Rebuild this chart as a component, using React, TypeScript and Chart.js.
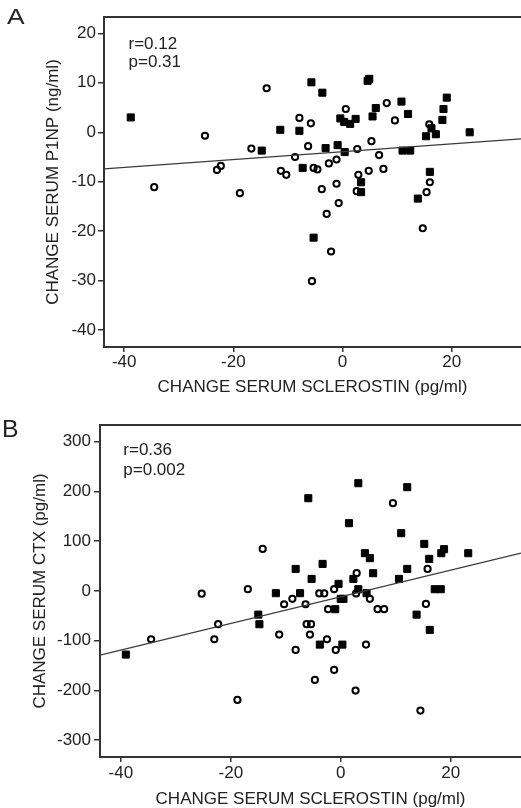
import React, { useEffect, useRef } from "react";
import { Chart, registerables } from "chart.js";

Chart.register(...registerables);

const FONT = "'Liberation Sans', Arial, sans-serif";
const INK = "#222";

// ---------- Panel A : P1NP ----------
const A_SQ_X = [-38.8, -5.7, -3.7, -11.4, -7.9, -14.8, -3.1, -0.9, 0.4, -7.3, 4.6, 4.9, -0.4, 0.3, 1.4, 2.4, 5.5, 6.1, 10.8, 12.0, 11.0, 12.4, 15.3, 16.3, 17.1, 18.3, 18.5, 19.1, 23.3, 16.0, 3.4, 3.4, 13.8, -5.3];
const A_SQ_Y = [3.0, 10.1, 8.0, 0.5, 0.3, -3.7, -3.2, -2.6, -4.0, -7.2, 10.4, 10.8, 2.8, 2.1, 1.7, 2.7, 3.2, 4.9, 6.2, 3.7, -3.7, -3.7, -0.8, 0.8, -0.4, 2.5, 4.7, 7.0, 0.0, -8.0, -10.1, -12.1, -13.4, -21.3];
const A_CI_X = [-13.9, -25.2, -16.7, -23.0, -22.3, -34.5, -18.8, -7.9, -5.8, -6.3, -8.7, -11.3, -10.3, -5.3, -4.6, -2.5, -1.1, 0.6, 2.7, 5.3, 6.7, 8.1, 9.6, 7.5, 4.8, 2.9, 15.9, 16.0, -1.1, -3.8, 2.6, 15.4, -0.7, -2.9, 14.7, -2.1, -5.6];
const A_CI_Y = [8.9, -0.7, -3.3, -7.6, -6.8, -11.1, -12.3, 2.9, 1.8, -2.8, -5.0, -7.8, -8.6, -7.2, -7.5, -6.3, -5.5, 4.7, -3.4, -1.8, -4.6, 5.9, 2.4, -7.4, -7.8, -8.6, 1.6, -10.1, -10.4, -11.5, -11.9, -12.1, -14.3, -16.5, -19.4, -24.1, -30.1];
const A_FIT_X = [-43.7, 32.7];
const A_FIT_Y = [-7.4, -1.35];
const A_X_RANGE = [-43.7, 32.7];
const A_Y_RANGE = [-43.4, 23.3];
const A_STATS = ["r=0.12", "p=0.31"];
const A_Y_TITLE = "CHANGE SERUM P1NP (ng/ml)";

// ---------- Panel B : CTX ----------
const B_SQ_X = [-5.9, 3.2, 12.1, 1.5, 11.0, 15.2, 4.4, 5.3, 16.1, 18.3, 18.8, 23.2, -8.2, -3.3, -5.3, 5.9, 12.1, 10.6, 2.3, -0.4, 3.2, 4.7, 17.1, 18.2, -11.8, -7.4, 0.0, 0.5, -15.0, -14.8, -1.0, -3.8, 0.3, 13.8, 16.2, -39.1];
const B_SQ_Y = [186.4, 216.6, 208.6, 136.2, 116.1, 94.5, 75.8, 65.8, 64.4, 75.8, 83.9, 75.8, 44.2, 54.3, 24.1, 35.6, 44.2, 24.1, 24.1, 14.1, 3.4, -4.6, 3.4, 3.4, -4.6, -4.6, -16, -16, -47.7, -67.0, -36.8, -108, -108, -47.7, -78.4, -128];
const B_CI_X = [-14.2, 9.5, 2.9, 15.8, -25.3, -16.9, -1.2, -3.9, -3.0, 2.8, 5.3, -8.8, -10.3, -6.4, -2.3, 6.7, 7.9, 15.5, -6.2, -5.4, -22.3, -34.5, -23.0, -11.2, -5.6, -2.5, -8.2, -0.9, 4.6, -1.2, -4.7, 2.7, -18.8, 14.5];
const B_CI_Y = [84.5, 176.4, 35.6, 44.2, -5.5, 3.4, 3.4, -5, -5, -5, -16, -16, -26.8, -26.8, -36.8, -36.8, -36.8, -26.1, -67, -67, -67, -97.2, -97.2, -87.9, -87.9, -97.2, -118.7, -118.7, -108, -158.9, -179, -200.5, -219.2, -240.7];
const B_FIT_X = [-43.8, 32.8];
const B_FIT_Y = [-129.3, 75.8];
const B_X_RANGE = [-43.8, 32.8];
const B_Y_RANGE = [-334, 333.6];
const B_STATS = ["r=0.36", "p=0.002"];
const B_Y_TITLE = "CHANGE SERUM CTX (pg/ml)";

const X_TITLE = "CHANGE SERUM SCLEROSTIN (pg/ml)";
const X_STEP = 20;
const A_Y_STEP = 10;
const B_Y_STEP = 100;

const pts = (xs: number[], ys: number[]) => xs.map((x, i) => ({ x, y: ys[i] }));

const framePlugin = {
  id: "frameTop",
  afterDatasetsDraw(chart: any) {
    const { ctx, chartArea } = chart;
    ctx.save();
    ctx.strokeStyle = "#333";
    ctx.lineWidth = 2;
    ctx.beginPath();
    ctx.moveTo(chartArea.left - 1, chartArea.top);
    ctx.lineTo(chartArea.right, chartArea.top);
    ctx.stroke();
    ctx.restore();
  },
};

type Spec = {
  sqX: number[]; sqY: number[]; ciX: number[]; ciY: number[];
  fitX: number[]; fitY: number[];
  xRange: number[]; yRange: number[]; yStep: number; yTitle: string;
  padLeft: number; padTop: number; yWidth: number; xHeight: number;
  yTick: [number, number]; xTick: [number, number];
  xTitlePadBottom: number; xTitleLineHeight: number;
};

function buildConfig(s: Spec): any {
  const tickFont = { family: FONT, size: 17 };
  return {
    type: "scatter",
    data: {
      datasets: [
        {
          data: pts(s.fitX, s.fitY),
          showLine: true,
          borderColor: "#3a3a3a",
          borderWidth: 1.2,
          pointRadius: 0,
        },
        {
          data: pts(s.sqX, s.sqY),
          pointStyle: "rect",
          pointRadius: 5,
          backgroundColor: "#000",
          borderColor: "#000",
          borderWidth: 1,
        },
        {
          data: pts(s.ciX, s.ciY),
          pointStyle: "circle",
          pointRadius: 3.1,
          backgroundColor: "rgba(0,0,0,0)",
          borderColor: "#000",
          borderWidth: 2,
        },
      ],
    },
    options: {
      responsive: false,
      animation: false,
      events: [],
      layout: { autoPadding: false, padding: { left: s.padLeft, top: s.padTop, right: 0, bottom: 0 } },
      plugins: { legend: { display: false }, tooltip: { enabled: false } },
      scales: {
        x: {
          type: "linear",
          min: s.xRange[0],
          max: s.xRange[1],
          afterFit: (sc: any) => { sc.height = s.xHeight; },
          border: { display: true, color: "#333", width: 2 },
          grid: { display: true, drawOnChartArea: false, drawTicks: true, tickLength: s.xTick[0], color: "#333", lineWidth: 1.5 },
          ticks: { stepSize: X_STEP, includeBounds: false, color: INK, font: tickFont, padding: s.xTick[1], maxRotation: 0 },
          title: {
            display: true,
            text: X_TITLE,
            color: INK,
            font: { family: FONT, size: 17, lineHeight: s.xTitleLineHeight },
            padding: { top: 0, bottom: s.xTitlePadBottom },
          },
        },
        y: {
          type: "linear",
          min: s.yRange[0],
          max: s.yRange[1],
          afterFit: (sc: any) => { sc.width = s.yWidth; },
          border: { display: true, color: "#333", width: 2 },
          grid: { display: true, drawOnChartArea: false, drawTicks: true, tickLength: s.yTick[0], color: "#333", lineWidth: 1.5 },
          ticks: { stepSize: s.yStep, includeBounds: false, color: INK, font: tickFont, padding: s.yTick[1] },
          title: {
            display: true,
            text: s.yTitle,
            color: INK,
            font: { family: FONT, size: 17 },
            padding: { top: 4, bottom: 4 },
          },
        },
      },
    },
    plugins: [framePlugin],
  };
}

function ChartCanvas({ spec, top, height }: { spec: Spec; top: number; height: number }) {
  const ref = useRef<HTMLCanvasElement | null>(null);
  useEffect(() => {
    if (!ref.current) return;
    const chart = new Chart(ref.current, buildConfig(spec));
    return () => chart.destroy();
  }, []);
  return (
    <canvas
      ref={ref}
      width={521}
      height={height}
      style={{ position: "absolute", left: 0, top, width: 521, height, display: "block" }}
    />
  );
}

const specA: Spec = {
  sqX: A_SQ_X, sqY: A_SQ_Y, ciX: A_CI_X, ciY: A_CI_Y,
  fitX: A_FIT_X, fitY: A_FIT_Y,
  xRange: A_X_RANGE, yRange: A_Y_RANGE, yStep: A_Y_STEP, yTitle: A_Y_TITLE,
  padLeft: 39, padTop: 17, yWidth: 65, xHeight: 55,
  yTick: [6, 2], xTick: [5, 0],
  xTitlePadBottom: 4, xTitleLineHeight: 1.2,
};

const specB: Spec = {
  sqX: B_SQ_X, sqY: B_SQ_Y, ciX: B_CI_X, ciY: B_CI_Y,
  fitX: B_FIT_X, fitY: B_FIT_Y,
  xRange: B_X_RANGE, yRange: B_Y_RANGE, yStep: B_Y_STEP, yTitle: B_Y_TITLE,
  padLeft: 26, padTop: 21, yWidth: 74, xHeight: 51,
  yTick: [6, 3], xTick: [5, 1],
  xTitlePadBottom: 0.5, xTitleLineHeight: 1.0,
};

const textBase: React.CSSProperties = {
  position: "absolute",
  fontFamily: FONT,
  color: INK,
  whiteSpace: "pre",
  margin: 0,
};

export default function App() {
  return (
    <div style={{ position: "absolute", left: 0, top: 0, width: 521, height: 808, overflow: "hidden", background: "#fff" }}>
      <ChartCanvas spec={specA} top={0} height={402} />
      <ChartCanvas spec={specB} top={404} height={404} />
      <div style={{ ...textBase, left: 7.3, top: 6.4, fontSize: 22, lineHeight: "22px", transform: "scaleX(1.2)", transformOrigin: "left top" }}>A</div>
      <div style={{ ...textBase, left: 2.2, top: 417.8, fontSize: 23, lineHeight: "23px", transform: "scaleX(1.08)", transformOrigin: "left top" }}>B</div>
      <div style={{ ...textBase, left: 128.5, top: 35, fontSize: 17, lineHeight: "18.3px" }}>
        {A_STATS[0]}
        <br />
        {A_STATS[1]}
      </div>
      <div style={{ ...textBase, left: 123.3, top: 440.1, fontSize: 17, lineHeight: "20px" }}>
        {B_STATS[0]}
        <br />
        {B_STATS[1]}
      </div>
    </div>
  );
}
